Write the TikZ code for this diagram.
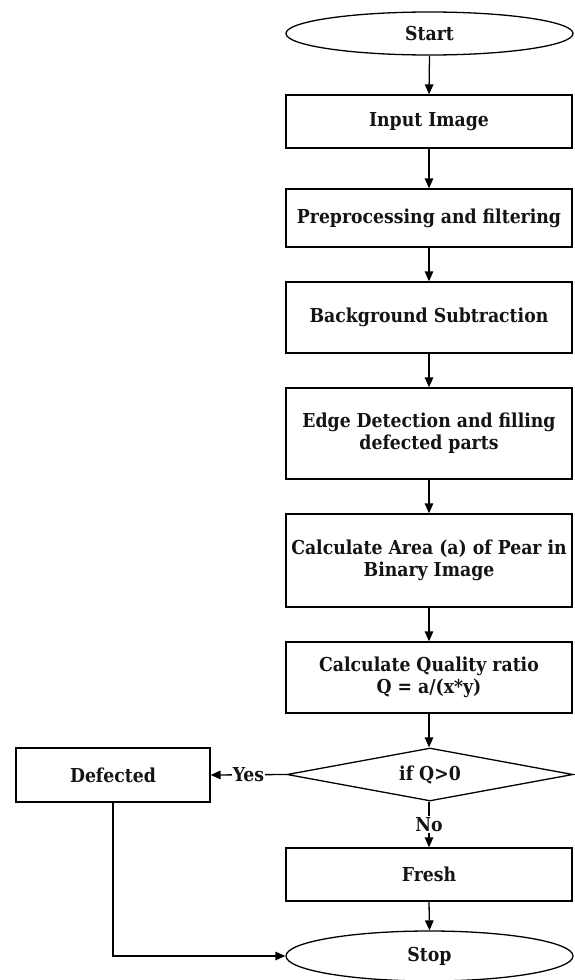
\documentclass[tikz,border=0pt]{standalone}
\usepackage{fontspec}
\setmainfont{DejaVu Serif Condensed}
\usetikzlibrary{arrows.meta,shapes.geometric}
\begin{document}
\begin{tikzpicture}[x=1pt,y=-1pt,
  every node/.style={font=\fontsize{19.2}{22}\selectfont\bfseries, text=black!92, align=center, inner sep=1pt},
  proc/.style={draw, line width=1.3pt, minimum width=286pt},
  term/.style={draw, ellipse, line width=1.3pt, minimum width=287pt},
  decide/.style={draw, diamond, line width=1.3pt, minimum width=286pt, minimum height=53pt, aspect=5.4, inner sep=0pt},
  arr/.style={line width=1.3pt, -{Triangle[length=10pt,width=8.5pt]}},
  lbl/.style={fill=white, inner sep=1pt}]
\useasboundingbox (0,0) rectangle (574,980);
\fill[white] (0,0) rectangle (574,980);
\node[term, minimum height=43pt] (start) at (429.5,33.5) {Start};
\node[proc, minimum height=53pt] (input) at (429,121.5) {Input Image};
\node[proc, minimum height=58pt] (pre) at (429,218) {Preprocessing and filtering};
\node[proc, minimum height=71pt] (bg) at (429,317.5) {Background Subtraction};
\node[proc, minimum height=91pt] (edge) at (429,433.5) {Edge Detection and filling\\defected parts};
\node[proc, minimum height=93pt] (area) at (429,560.5) {Calculate Area (a) of Pear in\\Binary Image};
\node[proc, minimum height=71pt] (qual) at (429,677.5) {Calculate Quality ratio\\Q = a/(x*y)};
\node[decide] (dec) at (430,774.5) {if Q>0};
\node[proc, minimum height=53pt] (fresh) at (429,874.5) {Fresh};
\node[term, minimum height=50pt] (stop) at (429.5,956) {Stop};
\node[proc, minimum width=194pt, minimum height=54pt] (def) at (113,775) {Defected};
\draw[arr] (start.south) -- (input.north);
\draw[arr] (input.south) -- (pre.north);
\draw[arr] (pre.south) -- (bg.north);
\draw[arr] (bg.south) -- (edge.north);
\draw[arr] (edge.south) -- (area.north);
\draw[arr] (area.south) -- (qual.north);
\draw[arr] (qual.south) -- (qual.south |- dec.north);
\draw[arr] (dec.west) -- node[lbl] {Yes} (def.east);
\draw[arr] (dec.south -| fresh.north) -- node[lbl] {No} (fresh.north);
\draw[arr] (fresh.south) -- (stop.north);
\draw[arr] (def.south) |- (stop.west);
\end{tikzpicture}
\end{document}
